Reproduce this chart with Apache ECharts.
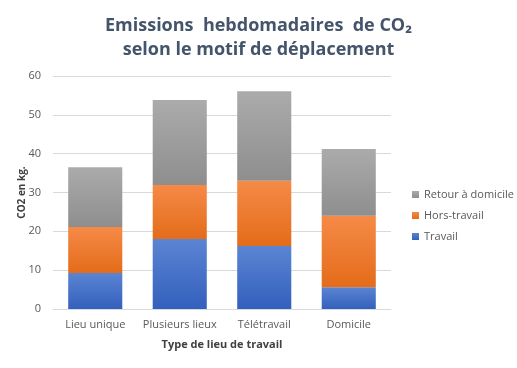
<!DOCTYPE html>
<html><head><meta charset="utf-8">
<script src="https://cdn.jsdelivr.net/npm/echarts@6/dist/echarts.min.js"></script>
<style>html,body{margin:0;padding:0;background:#fff}#c{width:517px;height:368px}</style>
</head><body><div id="c"></div>
<script>
const categories = ['Lieu unique', 'Plusieurs lieux', 'Télétravail', 'Domicile'];
const travail = [9.3, 18.0, 16.2, 5.6];
const horsTravail = [11.8, 13.9, 16.8, 18.4];
const retourDomicile = [15.4, 21.9, 23.1, 17.2];
const yTicks = [0, 10, 20, 30, 40, 50, 60];

function grad(top, bottom) {
  return new echarts.graphic.LinearGradient(0, 0, 0, 1, [
    { offset: 0, color: top }, { offset: 1, color: bottom }
  ]);
}
const font = 'Open Sans, Noto Sans, sans-serif';
const chart = echarts.init(document.getElementById('c'));
chart.setOption({
  animation: false,
  title: {
    text: 'Emissions  hebdomadaires  de CO₂\nselon le motif de déplacement',
    left: 'center', top: 9,
    textStyle: { fontFamily: font, fontSize: 18, fontWeight: 'bold', color: '#44546A', lineHeight: 24 }
  },
  grid: { left: 53, right: 126, top: 76, bottom: 59, outerBoundsMode: 'none', containLabel: false },
  legend: {
    orient: 'vertical', left: 407, top: 184, itemWidth: 7, itemHeight: 7, itemGap: 10,
    icon: 'rect',
    textStyle: { fontFamily: font, fontSize: 11, color: '#595959' },
    data: ['Retour à domicile', 'Hors-travail', 'Travail']
  },
  xAxis: {
    type: 'category', data: categories,
    name: 'Type de lieu de travail', nameLocation: 'middle', nameGap: 30, nameMoveOverlap: false,
    nameTextStyle: { fontFamily: font, fontSize: 11, fontWeight: 'bold', color: '#404040' },
    axisLine: { lineStyle: { color: '#d9d9d9' } },
    axisTick: { show: false },
    axisLabel: { interval: 0, fontFamily: font, fontSize: 11, color: '#595959', margin: 10 }
  },
  yAxis: {
    type: 'value', min: yTicks[0], max: yTicks[yTicks.length - 1], interval: 10,
    name: 'CO2 en kg.', nameLocation: 'middle', nameGap: 26, nameMoveOverlap: false,
    nameTextStyle: { fontFamily: font, fontSize: 10, fontWeight: 'bold', color: '#404040' },
    axisLine: { show: false }, axisTick: { show: false },
    axisLabel: { fontFamily: font, fontSize: 11, color: '#595959', margin: 12 },
    splitLine: { lineStyle: { color: '#d9d9d9' } }
  },
  series: [
    { name: 'Travail', type: 'bar', stack: 't', data: travail, barCategoryGap: '36%',
      itemStyle: { color: grad('#5b84d2', '#3360bd') } },
    { name: 'Hors-travail', type: 'bar', stack: 't', data: horsTravail,
      itemStyle: { color: grad('#f58a47', '#e46c1a') } },
    { name: 'Retour à domicile', type: 'bar', stack: 't', data: retourDomicile,
      itemStyle: { color: grad('#ababab', '#8e8e8e') } }
  ]
});
</script></body></html>
